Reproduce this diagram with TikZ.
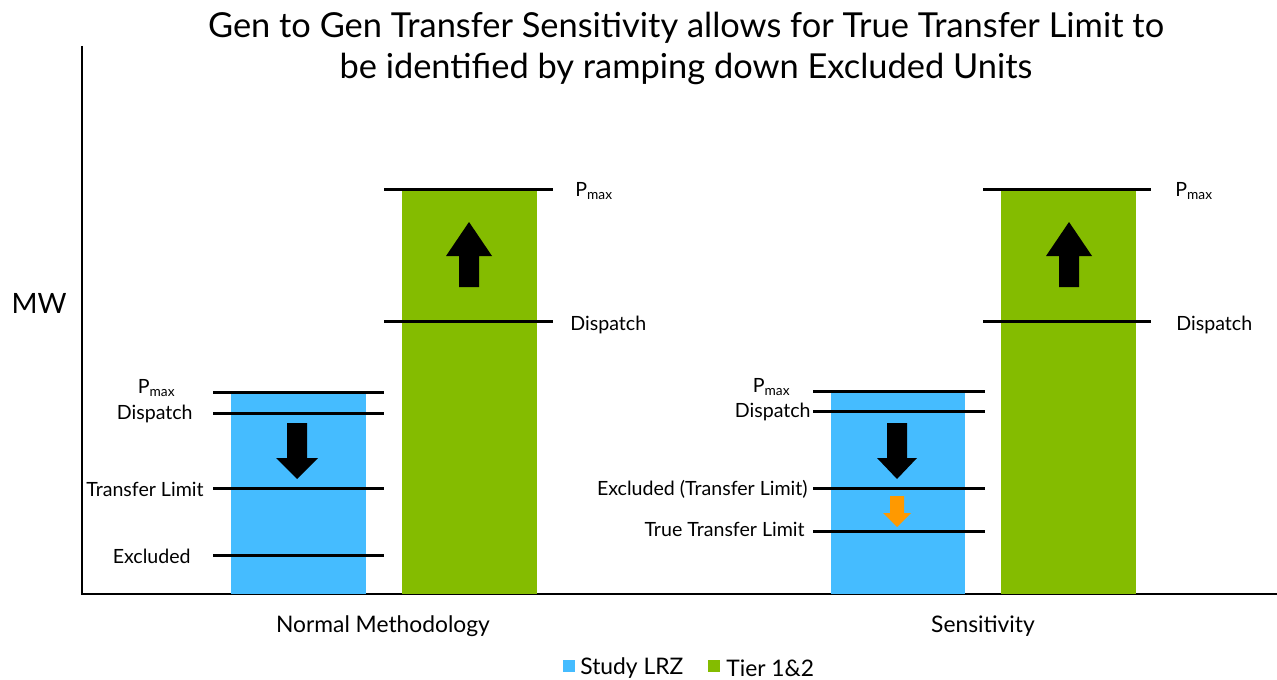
\documentclass[tikz,border=0pt]{standalone}
\usepackage{fontspec}
\setmainfont{Lato}
\usetikzlibrary{positioning}
\definecolor{lrzblue}{RGB}{69,188,255}
\definecolor{tiergreen}{RGB}{132,188,0}
\definecolor{ramporange}{RGB}{255,153,0}
\newcommand{\pmax}{P\textsubscript{max}}

\begin{document}
\begin{tikzpicture}[
		x=0.5pt,y=-0.5pt,
		level/.style={
			line width=1.5pt
		},
		lab/.style={
			font=\fontsize{9.8}{11}\selectfont,
			inner sep=0pt
		},
		cat/.style={
			font=\fontsize{11.4}{13}\selectfont,
			inner sep=0pt
		}
		]
		\useasboundingbox (0,0) rectangle (1277,679);
		% title
		\node[align=center,font=\fontsize{17.2}{20.5}\selectfont] (title) at (686,48)
			{Gen to Gen Transfer Sensitivity allows for True Transfer Limit to\\be identified by ramping down Excluded Units};
		% axes
		\draw[line width=0.75pt] (82,46) -- (82,594) -- (1277,594);
		\node[font=\fontsize{14}{16}\selectfont] (mw) at (39,303) {MW};
		% bars
		\fill[lrzblue] (231,392) rectangle (366,594);
		\fill[tiergreen] (402,190) rectangle (537,594);
		\fill[lrzblue] (831,392) rectangle (965,594);
		\fill[tiergreen] (1001,190) rectangle (1136,594);
		% normal methodology levels
		\draw[level] (213,392) -- (384,392);
		\draw[level] (213,413) -- (384,413);
		\draw[level] (213,488) -- (384,488);
		\draw[level] (213,555) -- (384,555);
		\draw[level] (384,190) -- (553,190);
		\draw[level] (384,321) -- (553,321);
		\node[lab,anchor=east] (pmaxa) at (176,388) {\pmax};
		\node[lab,anchor=east] (dispa) at (193,414) {Dispatch};
		\node[lab,anchor=east] (tla) at (204,489) {Transfer Limit};
		\node[lab,anchor=east] (exa) at (191,556) {Excluded};
		\node[lab,anchor=west] (pmaxb) at (575,191) {\pmax};
		\node[lab,anchor=west] (dispb) at (570,325) {Dispatch};
		% sensitivity levels
		\draw[level] (813,391) -- (985,391);
		\draw[level] (813,411) -- (985,411);
		\draw[level] (813,488) -- (985,488);
		\draw[level] (813,531) -- (985,531);
		\draw[level] (983,190) -- (1151,190);
		\draw[level] (983,321) -- (1151,321);
		\node[lab,anchor=east] (pmaxc) at (791,387) {\pmax};
		\node[lab,anchor=east] (dispc) at (811,412) {Dispatch};
		\node[lab,anchor=east] (exc) at (808,489) {Excluded (Transfer Limit)};
		\node[lab,anchor=east] (ttlc) at (805,529) {True Transfer Limit};
		\node[lab,anchor=west] (pmaxd) at (1175,191) {\pmax};
		\node[lab,anchor=west] (dispd) at (1176,325) {Dispatch};
		% block arrows
		\fill[black] (287,423) -- (307,423) -- (307,458) -- (318,458) -- (297,479)
			-- (276,458) -- (287,458) -- cycle;
		\fill[black] (459,287) -- (479,287) -- (479,256) -- (492,256) -- (469,222)
			-- (446,256) -- (459,256) -- cycle;
		\fill[black] (887,423) -- (907,423) -- (907,458) -- (917,458) -- (897,479)
			-- (877,458) -- (887,458) -- cycle;
		\fill[black] (1059,287) -- (1079,287) -- (1079,256) -- (1092,256) -- (1069,222)
			-- (1046,256) -- (1059,256) -- cycle;
		\fill[ramporange] (890,496) -- (904,496) -- (904,513) -- (911,513) -- (897,527)
			-- (883,513) -- (890,513) -- cycle;
		% categories
		\node[cat] (normal) at (383,626) {Normal Methodology};
		\node[cat] (sens) at (983,626) {Sensitivity};
		% legend
		\fill[lrzblue] (563,660) rectangle (575,672);
		\node[cat,anchor=west] (leglrz) at (580,668) {Study LRZ};
		\fill[tiergreen] (708,660) rectangle (720,672);
		\node[cat,anchor=west] (legtier) at (726,668) {Tier 1\&2};
\end{tikzpicture}
\end{document}
